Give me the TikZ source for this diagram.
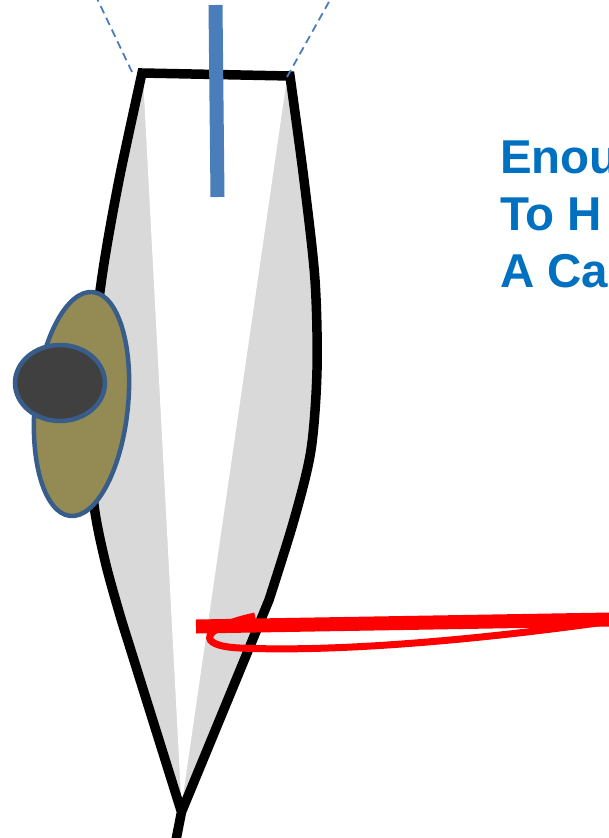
\documentclass[tikz,border=0pt]{standalone}
\usepackage{fontspec}
\setmainfont{Liberation Sans}
\definecolor{shellgray}{RGB}{217,217,217}
\definecolor{barblue}{RGB}{74,126,187}
\definecolor{rimblue}{RGB}{56,93,138}
\definecolor{olive}{RGB}{148,138,84}
\definecolor{darkcore}{RGB}{64,64,64}
\definecolor{titleblue}{RGB}{0,112,192}
\definecolor{pure red}{RGB}{255,0,0}
% Outline of the body: short tail below the tip, right flank, top edge, left flank
\newcommand\shellpath{%
  (176,840) -- (181.5,812) -- (269,600)
  -- plot[smooth,tension=0.5] coordinates {(269,600)
      (294,520) (311,450) (317,370) (315,280) (304,180) (290,76)}
  -- (142,73)
  -- plot[smooth,tension=0.5] coordinates {(142,73) (119,180) (103,270) (92,360) (90,430)
      (94,505) (106,565) (122,622)}
  -- (181.5,812)}
\begin{document}
\begin{tikzpicture}[x=1pt,y=-1pt,
  shellline/.style={line width=9.5pt,line join=miter,draw=black},
  bluebar/.style={line width=14pt,draw=barblue},
  guide/.style={line width=1.8pt,draw=barblue,dash pattern=on 8pt off 5pt},
  lensshape/.style={line width=4.5pt,draw=rimblue,fill=olive},
  coreshape/.style={line width=4.5pt,draw=rimblue,fill=darkcore},
  redbar/.style={line width=14pt,draw=pure red},
  redloop/.style={line width=7pt,draw=pure red},
  caption/.style={inner sep=0pt,anchor=base west,text=titleblue,
    font=\fontsize{47.5}{57}\selectfont\bfseries}]
\useasboundingbox (0,0) rectangle (609,838);
\clip (0,0) rectangle (609,838);

% body: gray shell with a white inner wedge
\fill[shellgray] \shellpath;
\fill[white] (143,76) -- (287,78) -- (181.5,806) -- cycle;
\draw[shellline] \shellpath;

% vertical bar through the top edge
\draw[bluebar] (215.5,5) -- (217.5,197);

% dashed guide lines from the top corners
\coordinate (gl) at (132,72);
\coordinate (gr) at (287,77);
\draw[guide] (gl) -- (93,-10);
\draw[guide] (gr) -- (335.6,-10);

% side lens with dark core
\draw[lensshape] (81.5,404) ellipse [x radius=46.5pt, y radius=112.5pt, rotate=-5.8];
\draw[coreshape] (60,383) ellipse [x radius=45pt, y radius=38pt];

% red wire with its loop
\draw[redloop] (640,617) .. controls (470,642) and (330,652) .. (240,648)
  .. controls (195,646) and (200,628) .. (255,616);
\draw[redbar] (196,626.5) -- (640,619);

% heading
\node[caption] (l1) at (500,173) {Enou};
\node[caption] (l2) at (500,230) {To H};
\node[caption] (l3) at (500,287) {A Ca};
\end{tikzpicture}
\end{document}
